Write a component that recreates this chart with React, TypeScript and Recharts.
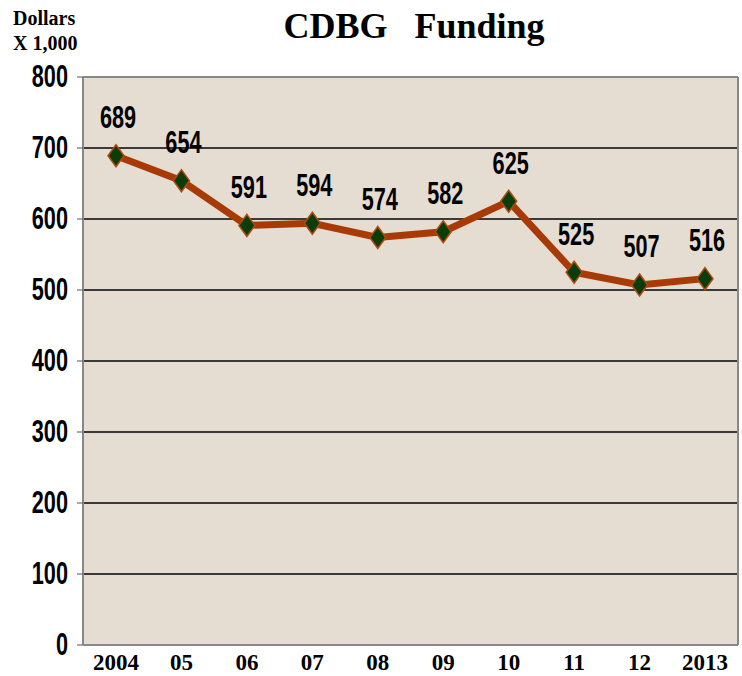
import { CartesianGrid, LabelList, Line, LineChart, ReferenceLine, XAxis, YAxis } from 'recharts'

const years = ['2004', '05', '06', '07', '08', '09', '10', '11', '12', '2013']
const funding = [689, 654, 591, 594, 574, 582, 625, 525, 507, 516]
const yTicks = [0, 100, 200, 300, 400, 500, 600, 700, 800]

const data = years.map((year, i) => ({ year, funding: funding[i] }))

const sans = '"Liberation Sans", Arial, sans-serif'
const serif = '"Liberation Serif", "Times New Roman", serif'

// condensed bold digits: squeeze a normal sans horizontally
function Narrow({ x, y, anchor, children }: { x: number; y: number; anchor: 'start' | 'middle' | 'end'; children: any }) {
  return (
    <text
      transform={`translate(${x},${y}) scale(0.7,1)`}
      textAnchor={anchor}
      dominantBaseline="central"
      fontFamily={sans}
      fontWeight={700}
      fontSize={31}
      fill="#000"
    >
      {children}
    </text>
  )
}

function YTick(props: any) {
  const { x, y, payload } = props
  return <Narrow x={x} y={y} anchor="end">{payload.value}</Narrow>
}

function PointLabel(props: any) {
  const { x, y, width, value } = props
  return <Narrow x={x + (width || 0) / 2 + 2} y={y - 38} anchor="middle">{value}</Narrow>
}

function Diamond(props: any) {
  const { cx, cy } = props
  if (cx == null || cy == null) return null
  return (
    <polygon
      points={`${cx},${cy - 11} ${cx + 8},${cy} ${cx},${cy + 11} ${cx - 8},${cy}`}
      fill="#0b3d0b"
      stroke="#b04a10"
      strokeWidth={1.5}
    />
  )
}

export default function App() {
  return (
    <div style={{ position: 'absolute', left: 0, top: 0, width: 742, height: 676, background: '#fff' }}>
      <div style={{ position: 'absolute', left: 13, top: 6, fontFamily: serif, fontWeight: 700, fontSize: 20, lineHeight: '25px' }}>
        Dollars
        <br />X 1,000
      </div>
      <div style={{ position: 'absolute', left: 0, width: 828, top: 5, textAlign: 'center', fontFamily: serif, fontWeight: 700, fontSize: 36, whiteSpace: 'pre' }}>
        {'CDBG   Funding'}
      </div>
      <LineChart width={742} height={676} data={data} margin={{ top: 77, right: 0, bottom: 0, left: 8 }}>
        <CartesianGrid vertical={false} stroke="#3a3a3a" strokeWidth={2} fill="#e5ddd1" fillOpacity={1} />
        <XAxis
          dataKey="year"
          padding={{ left: 33, right: 33 }}
          height={31}
          tickLine={false}
          axisLine={{ stroke: '#888', strokeWidth: 2 }}
          tick={{ fill: '#000', fontFamily: serif, fontWeight: 700, fontSize: 23 }}
          tickMargin={3}
          interval={0}
        />
        <YAxis
          domain={[0, 800]}
          ticks={yTicks}
          width={75}
          tickSize={6}
          tickMargin={9}
          axisLine={{ stroke: '#888', strokeWidth: 2 }}
          tickLine={{ stroke: '#555' }}
          tick={<YTick />}
        />
        <YAxis yAxisId="r" orientation="right" domain={[0, 800]} width={4} tick={false} tickLine={false} axisLine={{ stroke: '#888', strokeWidth: 2 }} />
        <ReferenceLine y={800} stroke="#888" strokeWidth={2} />
        <Line
          dataKey="funding"
          stroke="#a83a06"
          strokeWidth={7}
          type="linear"
          dot={<Diamond />}
          activeDot={false}
          isAnimationActive={false}
        >
          <LabelList dataKey="funding" content={<PointLabel />} />
        </Line>
      </LineChart>
    </div>
  )
}
